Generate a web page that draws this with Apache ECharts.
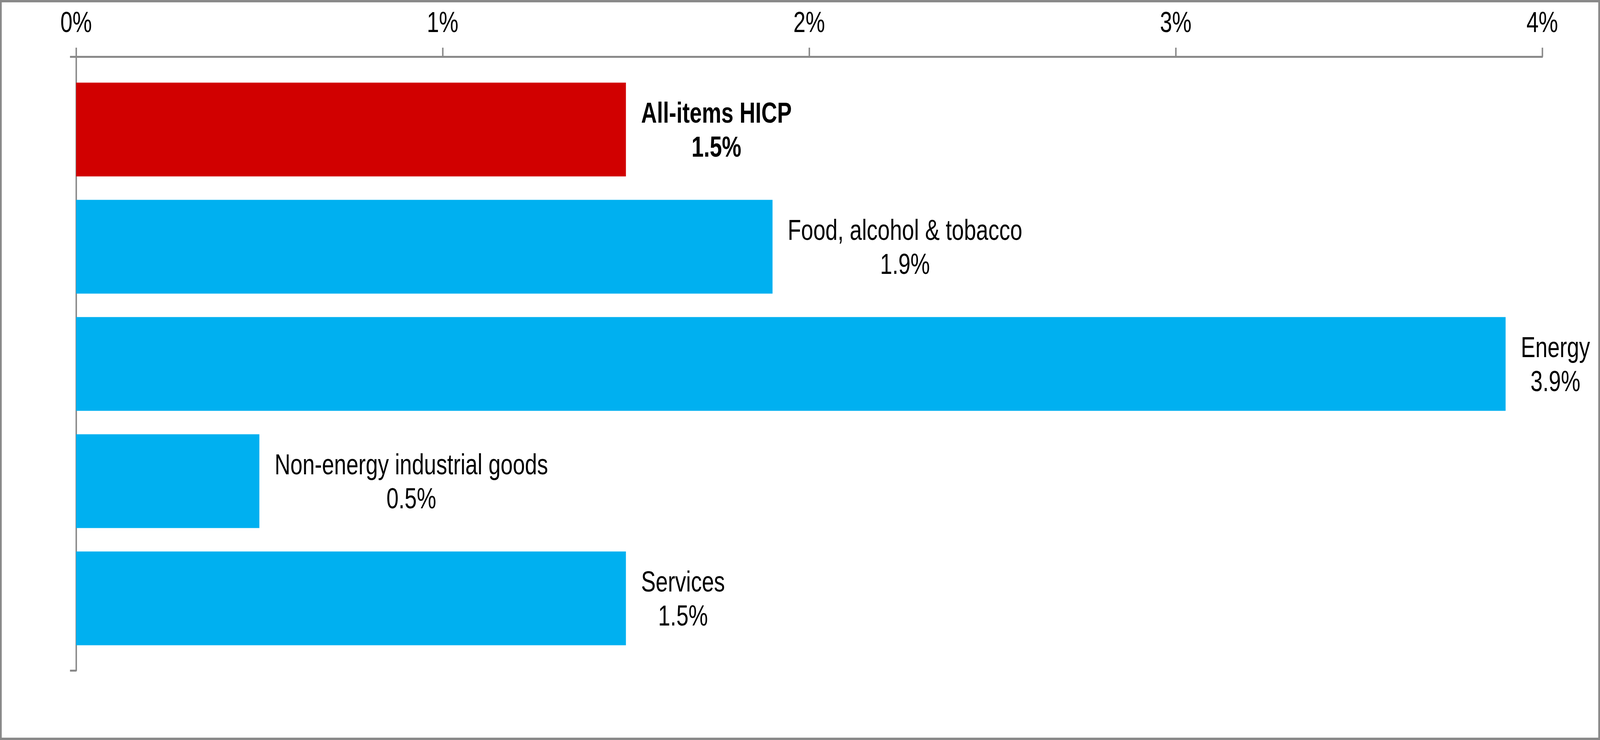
<!DOCTYPE html>
<html>
<head>
<meta charset="utf-8">
<script src="https://cdn.jsdelivr.net/npm/echarts@6/dist/echarts.min.js"></script>
<style>
html,body{margin:0;padding:0;background:#fff;overflow:hidden;}
#chart{width:5487px;height:1894px;transform-origin:0 0;}
</style>
</head>
<body>
<div id="chart"></div>
<script>
// ---- data ----
const categories = ['All-items HICP', 'Food, alcohol & tobacco', 'Energy', 'Non-energy industrial goods', 'Services'];
const values = [1.5, 1.9, 3.9, 0.5, 1.5];
const highlight = 'All-items HICP';
const xTicks = [0, 1, 2, 3, 4];

// ---- styles ----
const FONT = "'Liberation Sans', Arial, sans-serif";
const GRAY = '#898989';
const RED = '#D10000';
const BLUE = '#00B0F0';

const el = document.getElementById('chart');
// fit the 5487x1894 design into whatever viewport the browser really has
const fx = window.innerWidth / 5487, fy = window.innerHeight / 1894;
el.style.transform = 'scale(' + fx + ',' + fy + ')';

const chart = echarts.init(el, null, {renderer: 'svg', width: 5487, height: 1894});

const barData = categories.map((c, i) => {
  const hl = c === highlight;
  return {
    name: c,
    value: values[i],
    itemStyle: {color: hl ? RED : BLUE},
    label: {
      rich: {
        t: {
          fontFamily: FONT, fontSize: 75, lineHeight: 87, color: '#000',
          align: 'center', fontWeight: hl ? 'bold' : 'normal'
        }
      }
    }
  };
});

const option = {
  backgroundColor: '#fff',
  animation: false,
  graphic: [{
    type: 'rect',
    shape: {x: 3, y: 3, width: 5481, height: 1888},
    style: {fill: 'none', stroke: GRAY, lineWidth: 6},
    z: 100
  }],
  grid: [
    // axes frame
    {left: 261, right: 198, top: 145, bottom: 178},
    // bars
    {left: 261, right: 198, top: 181.5, bottom: 212.5}
  ],
  xAxis: [
    {
      gridIndex: 0, type: 'value', position: 'top',
      min: xTicks[0], max: xTicks[xTicks.length - 1], interval: 1,
      axisLine: {show: true, lineStyle: {color: GRAY, width: 5}},
      axisTick: {show: true, inside: false, length: 23, lineStyle: {color: GRAY, width: 5}},
      splitLine: {show: false},
      axisLabel: {
        show: true, margin: 52, fontFamily: FONT, fontSize: 75, lineHeight: 75, color: '#000',
        formatter: v => v + '%'
      }
    },
    {
      gridIndex: 1, type: 'value', position: 'top',
      min: xTicks[0], max: xTicks[xTicks.length - 1], interval: 1,
      show: false
    }
  ],
  yAxis: [
    {
      gridIndex: 0, type: 'category', data: [''], inverse: true,
      axisLine: {show: true, lineStyle: {color: GRAY, width: 5}},
      axisTick: {show: true, inside: false, length: 21, lineStyle: {color: GRAY, width: 5}},
      axisLabel: {show: false},
      splitLine: {show: false}
    },
    {
      gridIndex: 1, type: 'category', data: categories, inverse: true,
      show: false
    }
  ],
  series: [{
    type: 'bar',
    xAxisIndex: 1, yAxisIndex: 1,
    barWidth: 240,
    data: barData,
    z: 1,
    label: {
      show: true, position: 'right', distance: 52,
      formatter: p => '{t|' + p.name + '}\n{t|' + p.value.toFixed(1) + '%}'
    }
  }]
};
chart.setOption(option);
</script>
</body>
</html>
